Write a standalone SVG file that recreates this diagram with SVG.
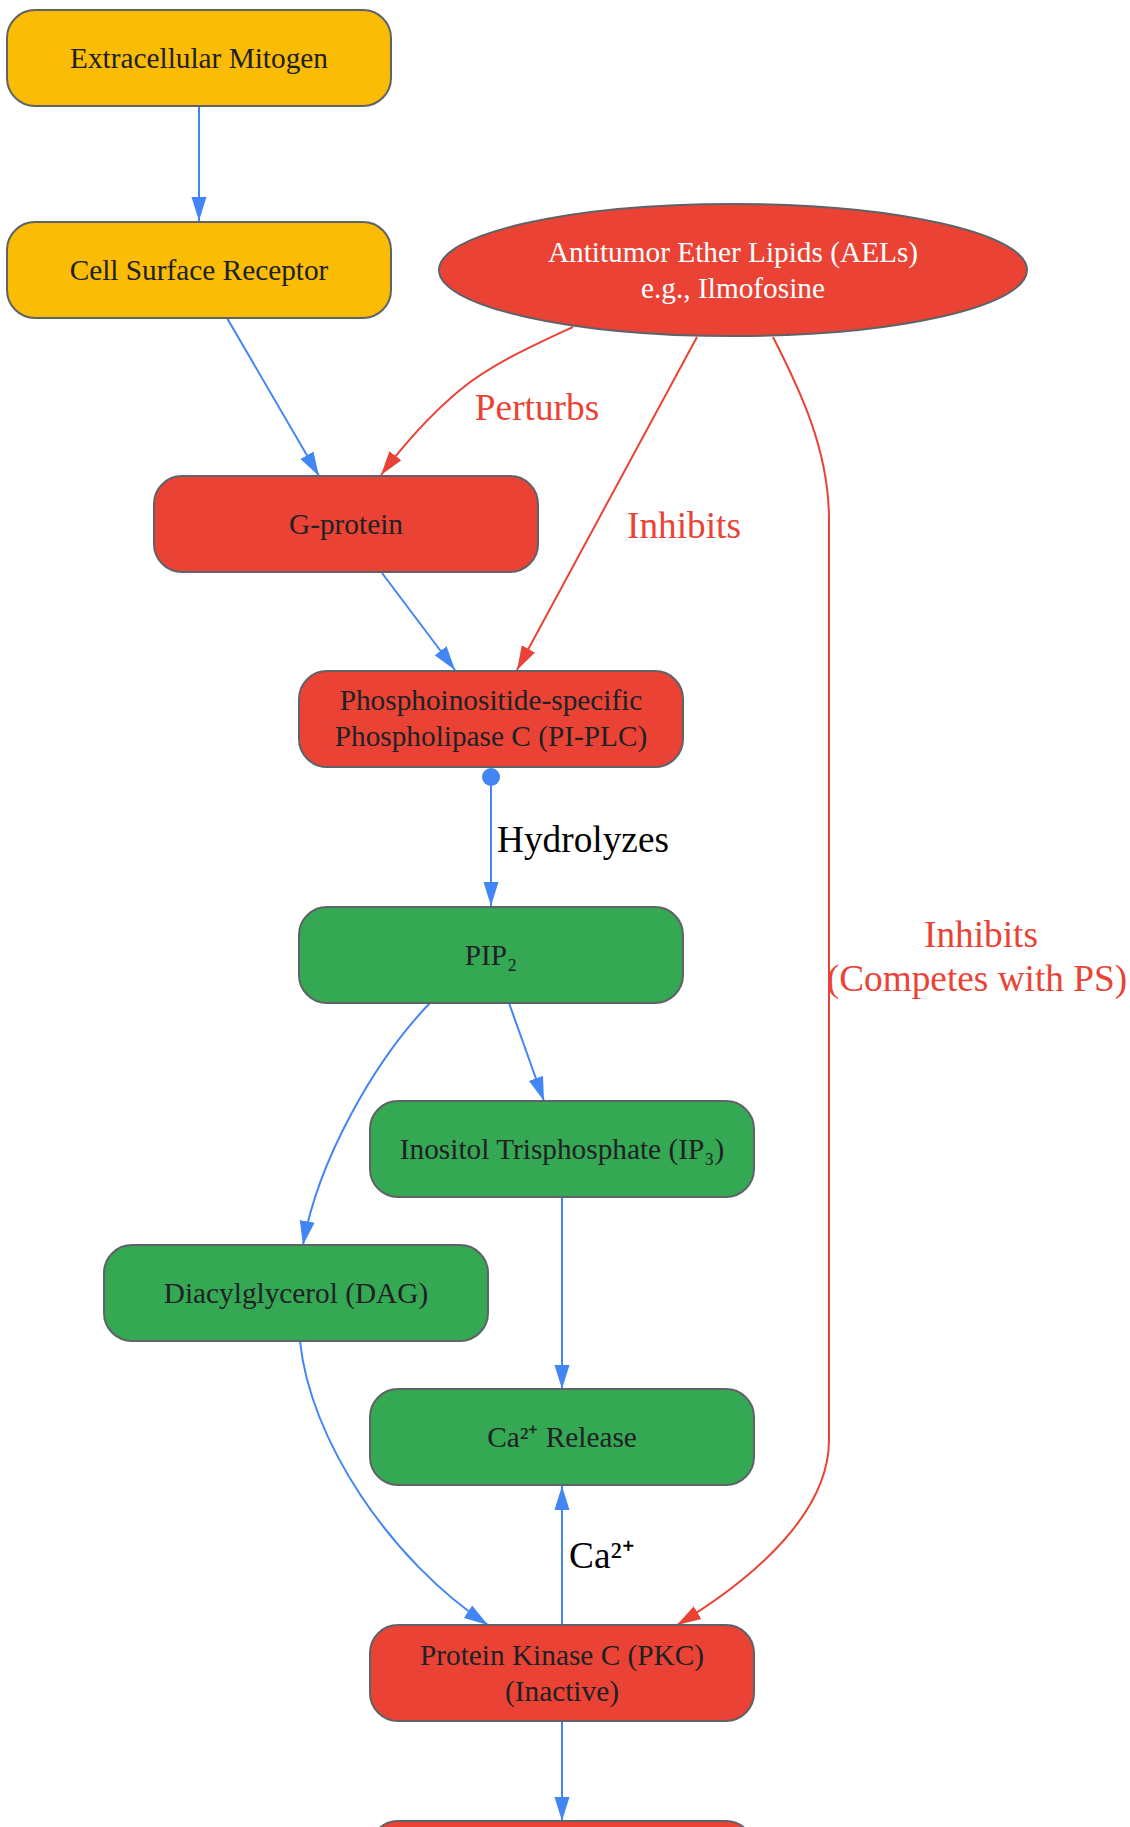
<svg xmlns="http://www.w3.org/2000/svg" width="1130" height="1827" viewBox="0 0 1130 1827">
<style>
  .box { stroke: #5f6368; stroke-width: 2; }
  .yellow { fill: #FBBC05; }
  .red { fill: #EA4335; }
  .green { fill: #34A853; }
  .nt { font-family: "Liberation Serif", "Times New Roman", serif; font-size: 29.3px; fill: #202124; text-anchor: middle; }
  .wt { fill: #ffffff; }
  .el { font-family: "Liberation Serif", "Times New Roman", serif; font-size: 37.3px; text-anchor: middle; }
  .blue-e { fill: none; stroke: #4285F4; stroke-width: 2; marker-end: url(#ab); }
  .red-e { fill: none; stroke: #EA4335; stroke-width: 2; marker-end: url(#ar); }
</style>
<defs>
  <marker id="ab" markerUnits="userSpaceOnUse" viewBox="0 0 24 16" markerWidth="24" markerHeight="16" refX="24" refY="8" orient="auto">
    <path d="M0,0.5 L24,8 L0,15.5 z" fill="#4285F4"/>
  </marker>
  <marker id="ar" markerUnits="userSpaceOnUse" viewBox="0 0 24 16" markerWidth="24" markerHeight="16" refX="24" refY="8" orient="auto">
    <path d="M0,0.5 L24,8 L0,15.5 z" fill="#EA4335"/>
  </marker>
</defs>
<rect width="1130" height="1827" fill="#ffffff"/>

<g id="connectors">
  <path class="blue-e" d="M199,106 L199,221"/>
  <path class="blue-e" d="M227,318 L319,476"/>
  <path class="red-e" d="M573,327 C 530,347 490,365 460,390 C 430,415 405,443 381,475"/>
  <path class="red-e" d="M697,337 L517,670"/>
  <path class="red-e" d="M773,337 C 800,390 829,450 829,520 L 829,1440 C 829,1510 760,1575 677,1625"/>
  <path class="blue-e" d="M382,573 L455,670"/>
  <circle cx="491" cy="777" r="9" fill="#4285F4"/>
  <path class="blue-e" d="M491,777 L491,906"/>
  <path class="blue-e" d="M509,1003 L544,1101"/>
  <path class="blue-e" d="M430,1003 C 375,1060 318,1160 303,1245"/>
  <path class="blue-e" d="M562,1197 L562,1389"/>
  <path class="blue-e" d="M300,1341 C 310,1440 390,1560 488,1625"/>
  <path class="blue-e" d="M562,1625 L562,1486"/>
  <path class="blue-e" d="M562,1721 L562,1821"/>
  <text class="el" x="537" y="420" fill="#EA4335">Perturbs</text>
  <text class="el" x="684" y="538" fill="#EA4335">Inhibits</text>
  <text class="el" x="981" y="947" fill="#EA4335">Inhibits</text>
  <text class="el" x="977" y="991" fill="#EA4335">(Competes with PS)</text>
  <text class="el" x="583" y="852" fill="#000000">Hydrolyzes</text>
  <text class="el" x="569" y="1568" fill="#000000" text-anchor="start" style="text-anchor:start">Ca²⁺</text>
</g>

<g id="mitogen">
  <rect class="box yellow" x="7" y="10" width="384" height="96" rx="28" ry="28"/>
  <text class="nt" x="199" y="68">Extracellular Mitogen</text>
</g>
<g id="receptor">
  <rect class="box yellow" x="7" y="222" width="384" height="96" rx="28" ry="28"/>
  <text class="nt" x="199" y="280">Cell Surface Receptor</text>
</g>
<g id="ael">
  <ellipse class="box red" cx="733" cy="270" rx="294" ry="66"/>
  <text class="nt wt" x="733" y="262">Antitumor Ether Lipids (AELs)</text>
  <text class="nt wt" x="733" y="298">e.g., Ilmofosine</text>
</g>
<g id="gprotein">
  <rect class="box red" x="154" y="476" width="384" height="96" rx="28" ry="28"/>
  <text class="nt" x="346" y="534">G-protein</text>
</g>
<g id="plc">
  <rect class="box red" x="299" y="671" width="384" height="96" rx="28" ry="28"/>
  <text class="nt" x="491" y="710">Phosphoinositide-specific</text>
  <text class="nt" x="491" y="746">Phospholipase C (PI-PLC)</text>
</g>
<g id="pip2">
  <rect class="box green" x="299" y="907" width="384" height="96" rx="28" ry="28"/>
  <text class="nt" x="491" y="965">PIP₂</text>
</g>
<g id="ip3">
  <rect class="box green" x="370" y="1101" width="384" height="96" rx="28" ry="28"/>
  <text class="nt" x="562" y="1159">Inositol Trisphosphate (IP₃)</text>
</g>
<g id="dag">
  <rect class="box green" x="104" y="1245" width="384" height="96" rx="28" ry="28"/>
  <text class="nt" x="296" y="1303">Diacylglycerol (DAG)</text>
</g>
<g id="ca">
  <rect class="box green" x="370" y="1389" width="384" height="96" rx="28" ry="28"/>
  <text class="nt" x="562" y="1447">Ca²⁺ Release</text>
</g>
<g id="pkc">
  <rect class="box red" x="370" y="1625" width="384" height="96" rx="28" ry="28"/>
  <text class="nt" x="562" y="1665">Protein Kinase C (PKC)</text>
  <text class="nt" x="562" y="1701">(Inactive)</text>
</g>
<g id="next">
  <rect class="box red" x="370" y="1821" width="384" height="96" rx="28" ry="28"/>
</g>
</svg>
